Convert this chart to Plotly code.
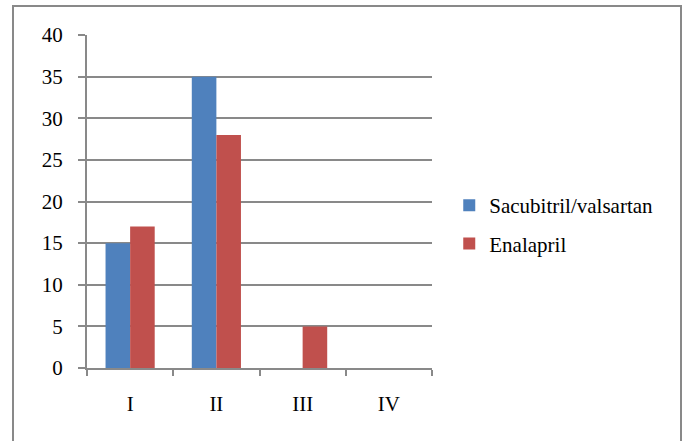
import plotly.graph_objects as go

categories = ["I", "II", "III", "IV"]
sacubitril = [15, 35, 0, 0]
enalapril = [17, 28, 5, 0]
series_names = ["Sacubitril/valsartan", "Enalapril"]
y_ticks = [0, 5, 10, 15, 20, 25, 30, 35, 40]

FONT = "Liberation Serif"
GRID = "#898989"

fig = go.Figure()
fig.add_trace(go.Bar(x=categories, y=sacubitril, name=series_names[0],
                     marker=dict(color="#4F81BD", line=dict(width=0)), legendgroup="a"))
fig.add_trace(go.Bar(x=categories, y=enalapril, name=series_names[1],
                     marker=dict(color="#C0504D", line=dict(width=0)), legendgroup="b"))

fig.update_layout(
    width=684, height=441,
    margin=dict(l=87, r=252, t=35, b=73),
    paper_bgcolor="white", plot_bgcolor="white",
    font=dict(family=FONT, size=21, color="black"),
    barmode="group", bargap=0.43, bargroupgap=0,
    showlegend=True,
    legend=dict(x=1.05, xanchor="left", y=0.431, yanchor="middle",
                font=dict(family=FONT, size=21, color="black"),
                traceorder="grouped", tracegroupgap=8,
                bgcolor="rgba(0,0,0,0)"),
    xaxis=dict(showgrid=False, showline=True, linecolor=GRID, linewidth=2,
               ticks="outside", tickson="boundaries", ticklen=6, tickcolor=GRID, tickwidth=2,
               ticklabelstandoff=16, tickfont=dict(family=FONT, size=21)),
    yaxis=dict(range=[0, 40], tickvals=y_ticks, showgrid=True, gridcolor=GRID, gridwidth=2,
               showline=True, linecolor=GRID, linewidth=2, zeroline=False,
               ticks="outside", ticklen=7, tickcolor=GRID, tickwidth=2,
               ticklabelstandoff=11, tickfont=dict(family=FONT, size=21)),
    shapes=[dict(type="rect", xref="paper", yref="paper",
                 x0=-74/345, x1=594/345, y0=(368-442)/333, y1=(368-6)/333,
                 line=dict(color=GRID, width=2), fillcolor="rgba(0,0,0,0)", layer="above")],
)

fig.write_html("out.html", config={"displayModeBar": False},
               post_script="document.body.style.margin='0';")
